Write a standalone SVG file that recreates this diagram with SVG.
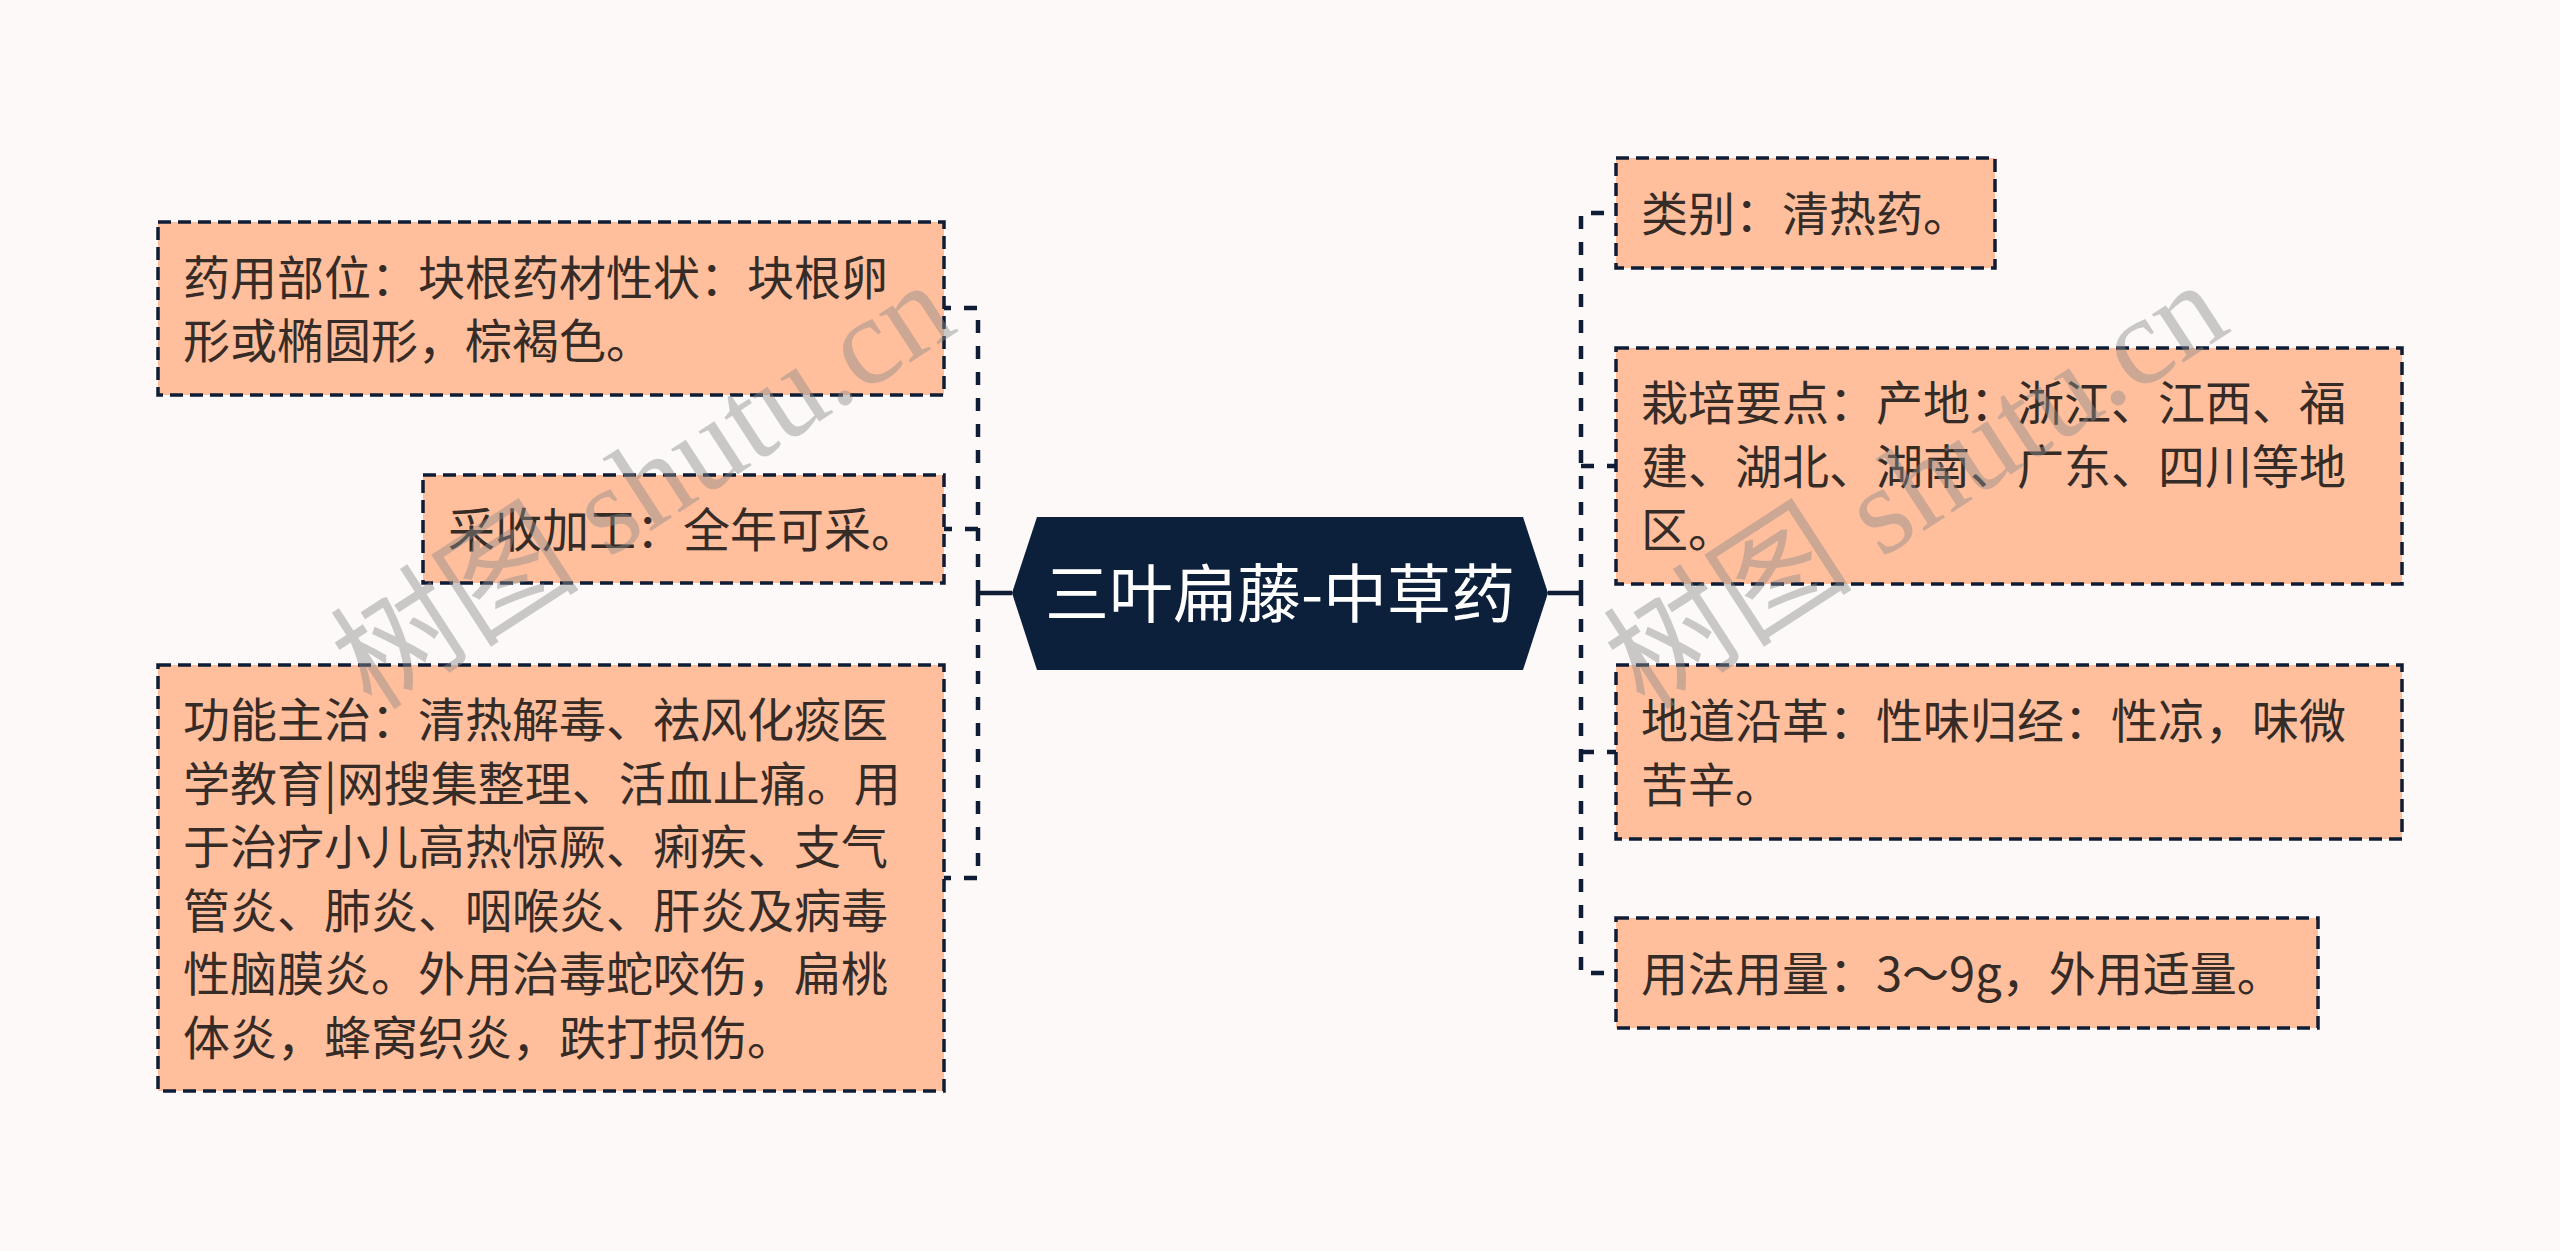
<svg xmlns="http://www.w3.org/2000/svg" width="2560" height="1251" viewBox="0 0 2560 1251">
<style>
.box{fill:#ffbe9c;stroke:#0e1d35;stroke-width:3.5;stroke-dasharray:13 7;}
.t{font-family:"Microsoft YaHei","Noto Sans CJK SC","Noto Sans",sans-serif;font-size:47px;fill:#352b27;}
.root{font-family:"Microsoft YaHei","Noto Sans CJK SC","Noto Sans",sans-serif;font-size:64px;fill:#ffffff;}
.dash{fill:none;stroke:#0e1d35;stroke-width:4.5;stroke-dasharray:13 13;}
.solid{fill:none;stroke:#0e1d35;stroke-width:4.5;}
.wm{font-family:"Liberation Serif","Noto Sans CJK SC",serif;font-size:125px;fill:#8c8c8c;fill-opacity:0.45;}
</style>
<rect x="0" y="0" width="2560" height="1251" fill="#fdf9f8"/>
<g id="connectors">
<path class="solid" d="M1012 593 H978"/>
<path class="dash" d="M978 593 V308 H944"/>
<path class="dash" d="M978 593 V878 H944"/>
<path class="dash" d="M978 529 H944"/>
<path class="solid" d="M1548 593 H1581"/>
<path class="dash" d="M1581 593 V213 H1616"/>
<path class="dash" d="M1581 593 V973 H1616"/>
<path class="dash" d="M1581 466 H1616"/>
<path class="dash" d="M1581 752 H1616"/>
</g>
<g id="root">
<polygon points="1012,593 1037,517 1523,517 1548,593 1523,670 1037,670" fill="#0c1f3b"/>
<text class="root" x="1280" y="617" text-anchor="middle">三叶扁藤-中草药</text>
</g>
<g id="node-l1">
<rect class="box" x="158" y="222" width="786" height="173"/>
<text class="t" x="183" y="295">药用部位：块根药材性状：块根卵</text>
<text class="t" x="183" y="358">形或椭圆形，棕褐色。</text>
</g>
<g id="node-l2">
<rect class="box" x="423" y="475" width="521" height="108"/>
<text class="t" x="448" y="547">采收加工：全年可采。</text>
</g>
<g id="node-l3">
<rect class="box" x="158" y="665" width="786" height="426"/>
<text class="t" x="183" y="737">功能主治：清热解毒、祛风化痰医</text>
<text class="t" x="183" y="801">学教育|网搜集整理、活血止痛。用</text>
<text class="t" x="183" y="864">于治疗小儿高热惊厥、痢疾、支气</text>
<text class="t" x="183" y="928">管炎、肺炎、咽喉炎、肝炎及病毒</text>
<text class="t" x="183" y="991">性脑膜炎。外用治毒蛇咬伤，扁桃</text>
<text class="t" x="183" y="1055">体炎，蜂窝织炎，跌打损伤。</text>
</g>
<g id="node-r1">
<rect class="box" x="1616" y="158" width="379" height="110"/>
<text class="t" x="1641" y="231">类别：清热药。</text>
</g>
<g id="node-r2">
<rect class="box" x="1616" y="348" width="786" height="236"/>
<text class="t" x="1641" y="420">栽培要点：产地：浙江、江西、福</text>
<text class="t" x="1641" y="484">建、湖北、湖南、广东、四川等地</text>
<text class="t" x="1641" y="547">区。</text>
</g>
<g id="node-r3">
<rect class="box" x="1616" y="665" width="786" height="174"/>
<text class="t" x="1641" y="738">地道沿革：性味归经：性凉，味微</text>
<text class="t" x="1641" y="802">苦辛。</text>
</g>
<g id="node-r4">
<rect class="box" x="1616" y="918" width="702" height="110"/>
<text class="t" x="1641" y="991">用法用量：3～9g，外用适量。</text>
</g>
<g id="watermark">
<text class="wm" transform="translate(372 712) rotate(-33)">树图 shutu.cn</text>
<text class="wm" transform="translate(1645 712) rotate(-33)">树图 shutu.cn</text>
</g>
</svg>
